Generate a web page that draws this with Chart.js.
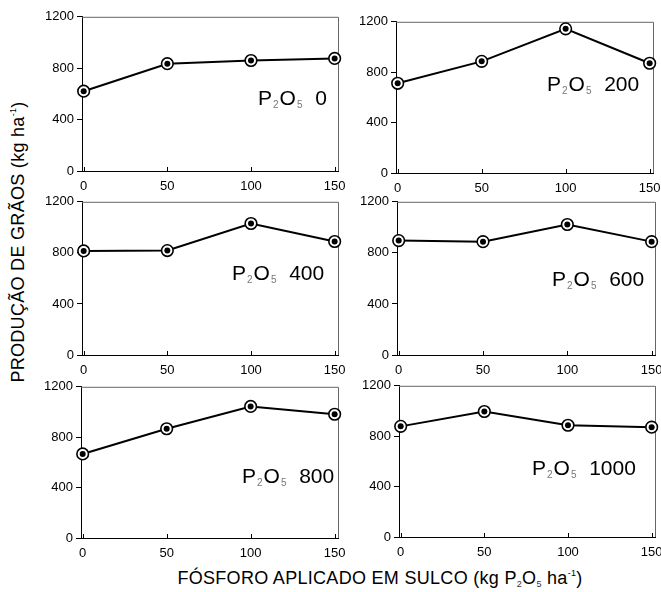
<!DOCTYPE html>
<html>
<head>
<meta charset="utf-8">
<script src="https://cdn.jsdelivr.net/npm/chart.js@4.4.1/dist/chart.umd.min.js"></script>
<style>
    html, body { margin: 0; padding: 0; background: #fff; }
    #page { position: relative; width: 661px; height: 592px; overflow: hidden; font-family: 'Liberation Sans', Arial, sans-serif; }
    .panel { position: absolute; }
    .tag { position: absolute; font-size: 21px; color: #000; white-space: pre; line-height: 1; }
    .tag sub { font-size: 10px; color: #777; vertical-align: -3px; margin: 0 1px; }
    .ytitle { position: absolute; left: 18px; top: 242px; transform: translate(-50%, -50%) rotate(-90deg); font-size: 18px; white-space: nowrap; letter-spacing: 0.3px; }
    .xtitle { position: absolute; left: 380px; top: 578px; transform: translate(-50%, -50%); font-size: 18px; white-space: nowrap; letter-spacing: 0.3px; }
    .ytitle sup, .xtitle sup { font-size: 9px; vertical-align: 8px; }
    .xtitle sub { font-size: 9px; vertical-align: -3px; color: #333; }
</style>
</head>
<body>
<div id="page">
    <div class="ytitle">PRODUÇÃO DE GRÃOS (kg ha<sup>-1</sup>)</div>
    <div class="xtitle">FÓSFORO APLICADO EM SULCO (kg P<sub>2</sub>O<sub>5</sub> ha<sup>-1</sup>)</div>
</div>
<script>
    // doses in the furrow (x) and yield per broadcast P2O5 dose
    var doses = [0, 50, 100, 150];
    var xTicks = [0, 50, 100, 150];
    var yTicks = [0, 400, 800, 1200];
    var panelDoses = ['0', '200', '400', '600', '800', '1000'];

    var yieldP0 = [621, 835, 860, 876];
    var yieldP200 = [712, 886, 1144, 871];
    var yieldP400 = [815, 818, 1030, 889];
    var yieldP600 = [896, 888, 1022, 888];
    var yieldP800 = [667, 867, 1044, 982];
    var yieldP1000 = [878, 996, 887, 872];

    var series = [yieldP0, yieldP200, yieldP400, yieldP600, yieldP800, yieldP1000];

    // plot area of each panel: left, top, right, bottom
    var areas = [
        [82, 14, 338, 171],
        [396, 19, 653, 173],
        [82, 199, 338, 355],
        [397, 199, 655, 355],
        [81, 384, 338, 538],
        [399, 383, 655, 537]
    ];
    // where each P2O5 label goes (left, middle)
    var tagSpots = [[258, 97], [547, 83], [232, 272], [552, 278], [242, 475], [532, 467]];

    var boxPlugin = {
        id: 'box',
        beforeDatasetsDraw: function (chart) {
            var a = chart.chartArea;
            var ctx = chart.ctx;
            var xs = chart.scales.x;
            ctx.save();
            ctx.strokeStyle = '#666';
            ctx.lineWidth = 1;
            ctx.beginPath();
            ctx.moveTo(a.left, a.top + 0.5);
            ctx.lineTo(a.right + 0.5, a.top + 0.5);
            ctx.lineTo(a.right + 0.5, a.bottom);
            ctx.stroke();
            // short inward ticks on the x axis
            ctx.strokeStyle = '#000';
            xTicks.forEach(function (v) {
                var px = Math.round(xs.getPixelForValue(v)) + 0.5;
                ctx.beginPath();
                ctx.moveTo(px, a.bottom);
                ctx.lineTo(px, a.bottom - 4);
                ctx.stroke();
            });
            ctx.restore();
        }
    };

    var page = document.getElementById('page');
    var tickFont = { family: "'Liberation Sans Narrow', 'Liberation Sans', Arial, sans-serif", size: 13 };

    series.forEach(function (values, i) {
        var ar = areas[i];
        var box = document.createElement('div');
        box.className = 'panel';
        box.style.left = (ar[0] - 40) + 'px';
        box.style.top = (ar[1] - 8) + 'px';
        box.style.width = (ar[2] - ar[0] + 48) + 'px';
        box.style.height = (ar[3] - ar[1] + 34) + 'px';
        var canvas = document.createElement('canvas');
        box.appendChild(canvas);
        page.appendChild(box);

        var pts = doses.map(function (d, k) { return { x: d, y: values[k] }; });

        new Chart(canvas, {
            type: 'line',
            data: {
                datasets: [{
                    // black centre dot, drawn on top
                    data: pts,
                    order: 0,
                    showLine: false,
                    pointRadius: 3,
                    pointBackgroundColor: '#000',
                    pointBorderWidth: 0,
                    clip: false
                }, {
                    data: pts,
                    order: 1,
                    borderColor: '#000',
                    borderWidth: 2,
                    pointRadius: 5.8,
                    pointBackgroundColor: '#fff',
                    pointBorderColor: '#000',
                    pointBorderWidth: 1.6,
                    tension: 0,
                    clip: false
                }]
            },
            options: {
                responsive: true,
                maintainAspectRatio: false,
                animation: false,
                layout: { padding: { top: 8, right: 8, left: 0, bottom: 0 } },
                plugins: { legend: { display: false }, tooltip: { enabled: false } },
                scales: {
                    x: {
                        type: 'linear',
                        min: -1,
                        max: 152,
                        afterBuildTicks: function (s) { s.ticks = xTicks.map(function (v) { return { value: v }; }); },
                        afterFit: function (s) { s.height = 26; },
                        grid: { display: false },
                        border: { display: true, color: '#000', width: 1 },
                        ticks: { color: '#000', font: tickFont, padding: 0, maxRotation: 0, autoSkip: false,
                            callback: function (v) { return String(v); } }
                    },
                    y: {
                        min: 0,
                        max: 1200,
                        afterBuildTicks: function (s) { s.ticks = yTicks.map(function (v) { return { value: v }; }); },
                        afterFit: function (s) { s.width = 40; },
                        grid: { drawOnChartArea: false, drawTicks: true, tickLength: 5, color: '#000' },
                        border: { display: true, color: '#000', width: 1 },
                        ticks: { color: '#000', font: tickFont, padding: 3,
                            callback: function (v) { return String(v); } }
                    }
                }
            },
            plugins: [boxPlugin]
        });

        var tag = document.createElement('div');
        tag.className = 'tag';
        tag.style.left = tagSpots[i][0] + 'px';
        tag.style.top = (tagSpots[i][1] - 10) + 'px';
        tag.innerHTML = 'P<sub>2</sub>O<sub>5</sub>  ' + panelDoses[i];
        page.appendChild(tag);
    });
</script>
</body>
</html>
